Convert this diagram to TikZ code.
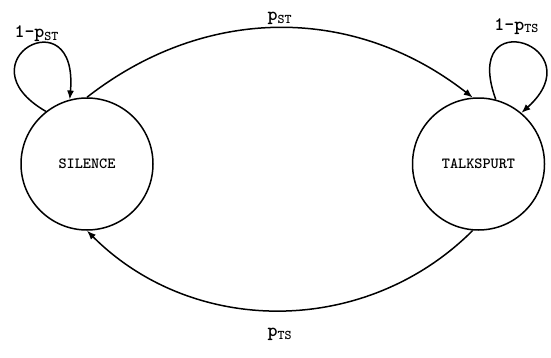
\documentclass[tikz,border=0pt]{standalone}
\usepackage{tikz}
\usetikzlibrary{arrows.meta, positioning}

\begin{document}
\begin{tikzpicture}[x=1pt, y=1pt, >={Latex[length=9pt, width=7pt]},
		phase/.style={circle, draw=black, line width=1.5pt, minimum size=132pt, inner sep=0pt, font=\fontsize{15.5}{18}\selectfont\ttfamily\bfseries},
		prob/.style={font=\fontsize{19}{22}\selectfont\ttfamily\bfseries}]
		\useasboundingbox (0,0) rectangle (551,357);
		
		\node[phase] (sil) at (87,193) {SILENCE};
		\node[phase, right=258pt of sil] (tlk) {TALKSPURT};
		
		\draw[->, line width=1.5pt] (sil.north) to[out=38, in=142] node[prob, above=-1pt] {p\textsubscript{ST}} (tlk.95);
		\draw[->, line width=1.5pt] (tlk.265) to[out=-135, in=-45] node[prob, below=14pt] {p\textsubscript{TS}} (sil.south);
		\draw[->, line width=1.5pt] (sil.128) .. controls +(150:100) and +(85:105) .. (sil.105) node[prob, pos=0.45, above=5pt, xshift=13pt] {1-p\textsubscript{ST}};
		\draw[->, line width=1.5pt] (tlk.75) .. controls +(110:105) and +(42:100) .. (tlk.50) node[prob, pos=0.4, above=4pt, xshift=6pt] {1-p\textsubscript{TS}};
	\end{tikzpicture}
\end{document}
